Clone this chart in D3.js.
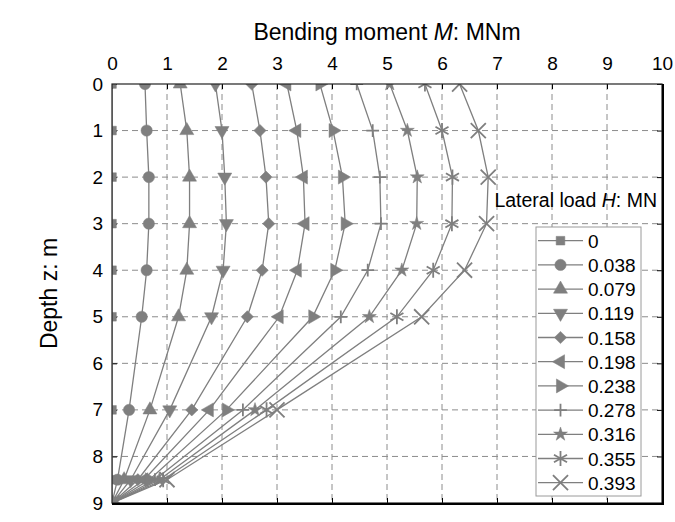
<!DOCTYPE html>
<html>
<head>
<meta charset="utf-8">
<script src="https://cdn.jsdelivr.net/npm/d3@7"></script>
<style>
  body { margin: 0; background: #fff; }
  text { font-family: "Liberation Sans", Arial, sans-serif; fill: #000; }
</style>
</head>
<body>
<div class="chart"></div>
<script>
// depth of the measuring points (m)
const depths = [0, 1, 2, 3, 4, 5, 7, 8.5, 9];
// lateral load H (MN), one series each
const loads = ['0', '0.038', '0.079', '0.119', '0.158', '0.198', '0.238', '0.278', '0.316', '0.355', '0.393'];
// bending moment M (MNm) at each depth
const m000 = [0, 0, 0, 0, 0, 0, 0, 0, 0];
const m038 = [0.60, 0.63, 0.67, 0.67, 0.63, 0.54, 0.31, 0.10, 0];
const m079 = [1.24, 1.36, 1.41, 1.41, 1.36, 1.21, 0.69, 0.22, 0];
const m119 = [1.88, 2.00, 2.05, 2.08, 2.02, 1.81, 1.05, 0.34, 0];
const m158 = [2.54, 2.69, 2.80, 2.85, 2.73, 2.46, 1.45, 0.47, 0];
const m198 = [3.18, 3.36, 3.48, 3.51, 3.37, 3.04, 1.77, 0.58, 0];
const m238 = [3.78, 4.02, 4.19, 4.24, 4.05, 3.65, 2.08, 0.68, 0];
const m278 = [4.45, 4.74, 4.87, 4.89, 4.65, 4.16, 2.38, 0.78, 0];
const m316 = [5.05, 5.37, 5.55, 5.54, 5.27, 4.68, 2.60, 0.86, 0];
const m355 = [5.69, 6.00, 6.19, 6.18, 5.84, 5.18, 2.81, 0.93, 0];
const m393 = [6.32, 6.66, 6.84, 6.81, 6.41, 5.63, 3.00, 1.00, 0];
const moments = [m000, m038, m079, m119, m158, m198, m238, m278, m316, m355, m393];

const xTicks = [0, 1, 2, 3, 4, 5, 6, 7, 8, 9, 10];
const yTicks = [0, 1, 2, 3, 4, 5, 6, 7, 8, 9];

const W = 675, H = 522;
const Margin = {top: 84, right: 13, bottom: 19, left: 112};
const GRAY = '#7f7f7f';

const svg = d3.select('.chart').append('svg')
  .attr('width', W).attr('height', H);
svg.append('rect').attr('width', W).attr('height', H).attr('fill', '#fff');

const x = d3.scaleLinear([0, 10], [Margin.left, W - Margin.right]);
const y = d3.scaleLinear([0, 9], [Margin.top, H - Margin.bottom]);

// dashed grid
const grid = svg.append('g')
  .attr('stroke', '#8c8c8c').attr('stroke-width', 1).attr('stroke-dasharray', '6,4');
grid.selectAll('line.v').data(xTicks.slice(1, -1)).join('line')
  .attr('x1', d => x(d)).attr('x2', d => x(d))
  .attr('y1', y(0)).attr('y2', y(9));
grid.selectAll('line.h').data(yTicks.slice(1, -1)).join('line')
  .attr('x1', x(0)).attr('x2', x(10))
  .attr('y1', d => y(d)).attr('y2', d => y(d));

// axes (ticks point inward)
const styleAxis = g => {
  g.select('.domain').remove();
  g.selectAll('.tick line').attr('stroke', '#000');
  g.selectAll('text').attr('font-size', '19px')
    .attr('font-family', '"Liberation Sans", Arial, sans-serif');
};
svg.append('g').attr('transform', `translate(0,${y(0)})`)
  .call(d3.axisTop(x).tickValues(xTicks).tickSize(-5).tickPadding(14))
  .call(styleAxis);
svg.append('g').attr('transform', `translate(0,${y(9)})`)
  .call(d3.axisBottom(x).tickValues(xTicks).tickSize(-5).tickFormat(''))
  .call(styleAxis);
svg.append('g').attr('transform', `translate(${x(0)},0)`)
  .call(d3.axisLeft(y).tickValues(yTicks).tickSize(-5).tickPadding(9))
  .call(styleAxis);
svg.append('g').attr('transform', `translate(${x(10)},0)`)
  .call(d3.axisRight(y).tickValues(yTicks).tickSize(-5).tickFormat(''))
  .call(styleAxis);

// clip for data
svg.append('clipPath').attr('id', 'plot-clip')
  .append('rect')
  .attr('x', x(0)).attr('y', y(0))
  .attr('width', x(10) - x(0)).attr('height', y(9) - y(0));

// marker shapes
const shapes = [
  {type: d3.symbolSquare, size: 75, rot: 0, fill: true},
  {type: d3.symbolCircle, size: 100, rot: 0, fill: true},
  {type: d3.symbolTriangle, size: 85, rot: 0, fill: true},
  {type: d3.symbolTriangle, size: 85, rot: 180, fill: true},
  {type: d3.symbolSquare, size: 75, rot: 45, fill: true},
  {type: d3.symbolTriangle, size: 85, rot: -90, fill: true},
  {type: d3.symbolTriangle, size: 85, rot: 90, fill: true},
  {type: d3.symbolPlus, size: 55, rot: 0, fill: false},
  {type: d3.symbolStar, size: 60, rot: 0, fill: true},
  {type: d3.symbolAsterisk, size: 160, rot: 0, fill: false},
  {type: d3.symbolTimes, size: 150, rot: 0, fill: false}
];
const drawMarker = (sel, s) => {
  sel.attr('d', d3.symbol(s.type, s.size)())
    .attr('fill', s.fill ? GRAY : 'none')
    .attr('stroke', GRAY)
    .attr('stroke-width', s.fill ? 0.5 : 1.8);
};

const line = d3.line().x(d => x(d[0])).y(d => y(d[1]));
const data = svg.append('g').attr('clip-path', 'url(#plot-clip)');

moments.forEach((m, i) => {
  const pts = depths.map((z, j) => [m[j], z]);
  data.append('path')
    .datum(pts)
    .attr('fill', 'none')
    .attr('stroke', GRAY)
    .attr('stroke-width', 1.3)
    .attr('d', line);
});
moments.forEach((m, i) => {
  const pts = depths.map((z, j) => [m[j], z]);
  data.append('g').selectAll('path')
    .data(pts)
    .join('path')
      .attr('transform', d => `translate(${x(d[0])},${y(d[1])}) rotate(${shapes[i].rot})`)
      .call(drawMarker, shapes[i]);
});

// frame
svg.append('rect')
  .attr('x', x(0)).attr('y', y(0))
  .attr('width', x(10) - x(0)).attr('height', y(9) - y(0))
  .attr('fill', 'none').attr('stroke', '#222').attr('stroke-width', 1.2);
svg.append('path')
  .attr('d', `M${x(0)},${y(9) + 1}H${x(10) + 1}V${y(0)}`)
  .attr('fill', 'none').attr('stroke', '#000').attr('stroke-width', 2);

// titles
const title = svg.append('text')
  .attr('x', (x(0) + x(10)) / 2).attr('y', 40)
  .attr('text-anchor', 'middle').attr('font-size', '23px');
title.append('tspan').text('Bending moment ');
title.append('tspan').attr('font-style', 'italic').text('M');
title.append('tspan').text(': MNm');

svg.append('text')
  .attr('transform', `translate(57,${(y(0) + y(9)) / 2}) rotate(-90)`)
  .attr('text-anchor', 'middle').attr('font-size', '23px')
  .text('Depth z: m');

const lat = svg.append('text')
  .attr('x', 657).attr('y', 207)
  .attr('text-anchor', 'end').attr('font-size', '19.5px');
lat.append('tspan').text('Lateral load ');
lat.append('tspan').attr('font-style', 'italic').text('H');
lat.append('tspan').text(': MN');

// legend
const legend = svg.append('g');
legend.append('rect')
  .attr('x', 536).attr('y', 227).attr('width', 105).attr('height', 269)
  .attr('fill', '#fff').attr('stroke', '#9a9a9a').attr('stroke-width', 1);
const items = legend.selectAll('g.item').data(loads).join('g')
  .attr('class', 'item')
  .attr('transform', (d, i) => `translate(0,${240.7 + i * 24.2})`);
items.append('line')
  .attr('x1', 538).attr('x2', 583)
  .attr('stroke', GRAY).attr('stroke-width', 1.3);
items.each(function(d, i) {
  d3.select(this).append('path')
    .attr('transform', `translate(560.5,0) rotate(${shapes[i].rot})`)
    .call(drawMarker, shapes[i]);
});
items.append('text')
  .attr('x', 588).attr('y', 7)
  .attr('font-size', '19px')
  .text(d => d);
</script>
</body>
</html>
